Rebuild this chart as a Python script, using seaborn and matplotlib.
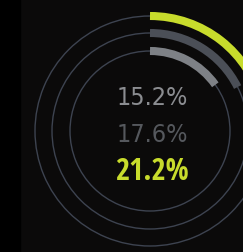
import seaborn as sns
import matplotlib.pyplot as plt
from matplotlib.patches import Arc, Rectangle

# ring values (percent), innermost first
etiquetas = ['15.2%', '17.6%', '21.2%']
valores = [15.2, 17.6, 21.2]
raios = [80, 98, 115]
cores_arco = ['#7e8186', '#4b4f57', '#c8dc2c']
cores_texto = ['#8b8d91', '#55585d', '#c8dc2c']
pesos = ['light', 'light', 'bold']
familias = [['DejaVu Sans'], ['DejaVu Sans'], ['Open Sans Condensed', 'DejaVu Sans']]
tamanhos = [18, 18, 22]

sns.set_theme(style='dark', rc={'axes.facecolor': '#0b0a0a', 'figure.facecolor': '#0b0a0a'})
plt.rcParams['font.family'] = ['Open Sans Condensed', 'DejaVu Sans']

fig = plt.figure(figsize=(2.43, 2.52), dpi=100)
ax = fig.add_axes([0, 0, 1, 1])
ax.set_xlim(0, 243)
ax.set_ylim(0, 252)
ax.set_aspect('equal')
ax.axis('off')

# darker strip on the left edge
ax.add_patch(Rectangle((0, 0), 20, 252, color='#000000', zorder=0))

cx, cy = 150, 121
for r, v, c in zip(raios, valores, cores_arco):
    # thin full ring
    ax.add_patch(Arc((cx, cy), 2 * r, 2 * r, theta1=0, theta2=360,
                     color='#3d4350', lw=1.0, zorder=1))
    # value arc, clockwise from the top
    ang = v / 100 * 360
    ax.add_patch(Arc((cx, cy), 2 * r, 2 * r, theta1=90 - ang, theta2=90,
                     color=c, lw=5.8, capstyle='butt', zorder=2))

ys = [154, 117, 80]
for txt, y, c, w, f, s in zip(etiquetas, ys, cores_texto, pesos, familias, tamanhos):
    ax.text(152, y, txt, color=c, fontsize=s, fontweight=w, family=f,
            fontstretch='condensed', ha='center', va='center')

fig.savefig('out.png', dpi=100, facecolor=fig.get_facecolor())
